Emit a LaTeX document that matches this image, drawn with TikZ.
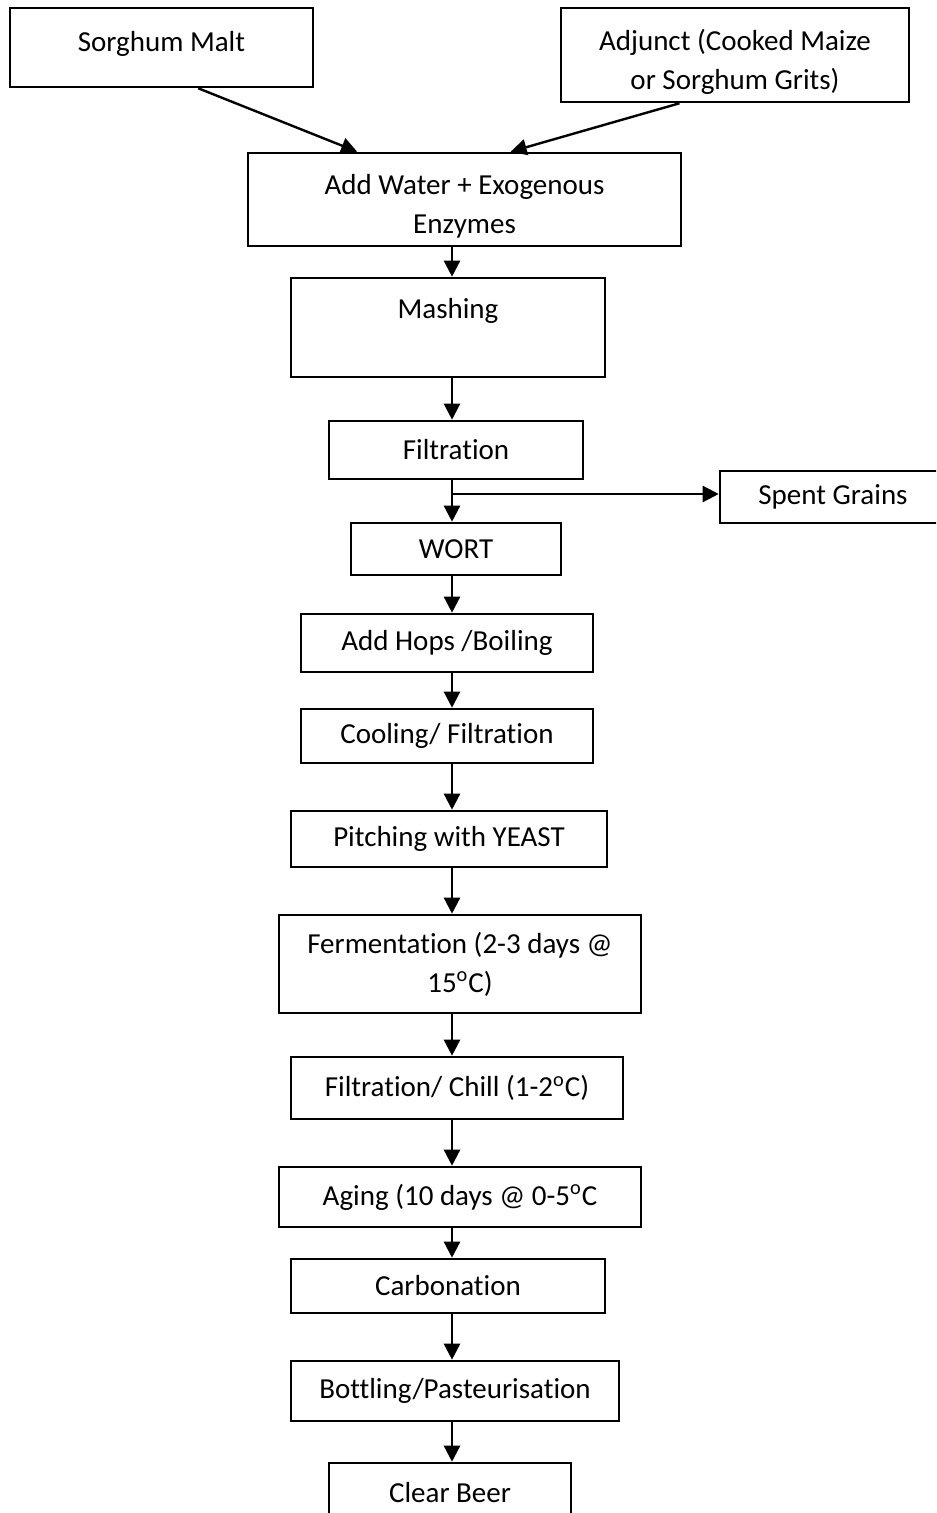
\documentclass[tikz,border=0pt]{standalone}
\usepackage{fontspec}
\setmainfont[RawFeature={-liga;-clig;-dlig}]{Carlito}
\usetikzlibrary{arrows.meta}

\begin{document}
\begin{tikzpicture}[x=0.5pt, y=-0.5pt,
      box/.style={draw, line width=1.3pt, inner sep=0pt, align=center, font=\fontsize{14.5}{19.5}\selectfont},
      arr/.style={-{Triangle[length=8pt,width=8pt]}, line width=1.2pt}
    ]
    \clip (0,0) rectangle (936,1513);

    % Row 1: the two inputs
    \node[box, minimum width=151.5pt, minimum height=39.5pt, text depth=6pt] (malt) at (161.5,47.5) {Sorghum Malt};
    \node[box, minimum width=174pt,   minimum height=47pt, text height=37pt] (adjunct) at (735,55) {Adjunct (Cooked Maize\\or Sorghum Grits)};

    % Main chain, top to bottom
    \node[box, minimum width=216.5pt, minimum height=46.5pt, text height=36pt] (water) at (464.5,199.5) {Add Water + Exogenous\\Enzymes};
    \node[box, minimum width=157pt,   minimum height=49.5pt] (mash)  at (448,327.5) {Mashing\\\mbox{}};
    \node[box, minimum width=127pt,   minimum height=29pt]   (filt)  at (456,450) {Filtration};
    \node[box, minimum width=105pt,   minimum height=26pt]   (wort)  at (456,549) {WORT};
    \node[box, minimum width=113pt,   minimum height=26pt]   (spent) at (833,497) {Spent Grains};
    \node[box, minimum width=146pt,   minimum height=29pt]   (hops)  at (447,643) {Add Hops /Boiling};
    \node[box, minimum width=146pt,   minimum height=27pt]   (cool)  at (447,736) {Cooling/ Filtration};
    \node[box, minimum width=158pt,   minimum height=28pt]   (pitch) at (449,839) {Pitching with YEAST};
    \node[box, minimum width=181pt,   minimum height=49pt]   (ferm)  at (460,964) {Fermentation (2-3 days @\\15\textsuperscript{o}C)};
    \node[box, minimum width=166pt,   minimum height=31pt]   (chill) at (457,1088) {Filtration/ Chill (1-2\textsuperscript{o}C)};
    \node[box, minimum width=181pt,   minimum height=30pt]   (aging) at (460,1197) {Aging (10 days @ 0-5\textsuperscript{o}C};
    \node[box, minimum width=157pt,   minimum height=27pt]   (carb)  at (448,1286) {Carbonation};
    \node[box, minimum width=164pt,   minimum height=30pt]   (bottle) at (455,1391) {Bottling/Pasteurisation};
    \node[box, minimum width=121pt,   minimum height=30pt]   (beer)  at (450,1493) {Clear Beer};

    % vertical spine and the branch point
    \coordinate (spine) at (452,0);
    \coordinate (split) at (452,494);

    % Arrows
    \draw[arr] (malt.-48)    -- (water.156);
    \draw[arr] (adjunct.221) -- (water.46);
    \draw[arr] (water.south -| spine) -- (mash.north -| spine);
    \draw[arr] (mash.south -| spine)  -- (filt.north -| spine);
    \draw[arr] (filt.south -| spine)  -- (wort.north -| spine);
    \draw[arr] (split) -- (split -| spent.west);
    \draw[arr] (wort.south -| spine)  -- (hops.north -| spine);
    \draw[arr] (hops.south -| spine)  -- (cool.north -| spine);
    \draw[arr] (cool.south -| spine)  -- (pitch.north -| spine);
    \draw[arr] (pitch.south -| spine) -- (ferm.north -| spine);
    \draw[arr] (ferm.south -| spine)  -- (chill.north -| spine);
    \draw[arr] (chill.south -| spine) -- (aging.north -| spine);
    \draw[arr] (aging.south -| spine) -- (carb.north -| spine);
    \draw[arr] (carb.south -| spine)  -- (bottle.north -| spine);
    \draw[arr] (bottle.south -| spine) -- (beer.north -| spine);
  \end{tikzpicture}
\end{document}
